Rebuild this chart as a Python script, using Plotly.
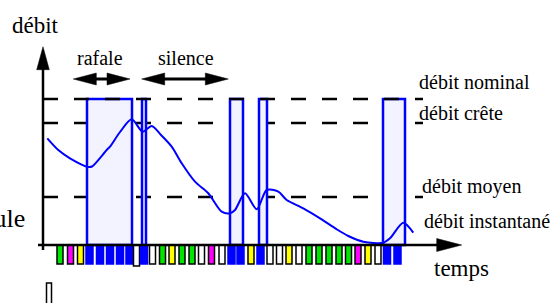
import plotly.graph_objects as go

# ---------------- data ----------------
level_names = ["débit nominal", "débit crête", "débit moyen"]
level_values = [146, 122, 48]
level_end = 380

burst_starts = [44, 99, 187, 216, 340]
burst_ends = [89, 103, 200, 224, 362]

curve_t = [4.3, 15.3, 27, 45.3, 49, 63.7, 67, 77, 88.7, 99.7, 108.7, 118, 128.7,
           138.7, 152, 165.3, 178.7, 187, 192, 202, 213.7, 223.7, 235.3, 243.7,
           260.3, 277, 293.7, 305.3, 320.3, 340.3, 347, 360.3, 370.3]
curve_rate = [106.7, 95, 86.7, 78, 78.5, 95, 98.3, 113, 125.7, 113.3, 119, 110, 98.3,
              81.7, 63.3, 51.7, 33.3, 31.7, 35, 51.7, 35.7, 55, 53.3, 45,
              36.7, 26.7, 15.7, 9, 3.3, 2.3, 6.7, 22.3, 12.3]

slot_t = [17, 27.5, 37.5, 46.5, 57, 67, 77, 86.5, 93.5, 101, 109.5, 119.5, 129, 139,
          149, 158.5, 168.5, 179, 188.5, 197.5, 208, 217.5, 227, 236.5, 246, 256,
          266, 276, 286, 296, 305.5, 315, 325, 335, 344, 354.5]
slot_kind = ["G", "M", "Y", "B", "B", "B", "B", "B", "W", "B", "W", "G", "Y", "G",
             "G", "W", "M", "W", "B", "B", "Y", "B", "W", "W", "Y", "W",
             "G", "G", "G", "G", "G", "M", "Y", "W", "B", "B"]
slot_depth = [19, 19, 19, 19, 19, 19, 19, 19, 21, 19, 19, 19, 19, 19,
              19, 19, 19, 19, 19, 19, 19, 19, 19, 19, 19, 19,
              19, 19, 19, 19, 19, 19, 19, 19, 19, 19]

rafale_span = [30.3, 87]
silence_span = [98.7, 185.3]

# ---------------- style ----------------
BLUE = "#0000ff"
kind_color = {"G": "#00e600", "M": "#ff00ff", "Y": "#ffff00", "B": BLUE, "W": "#ffffff"}
FONT = "Liberation Serif"

fig = go.Figure()

shapes = []
# crête and moyen levels below the burst windows
for v in level_values[1:]:
    shapes.append(dict(type="line", xref="x", yref="y", x0=0, x1=level_end, y0=v, y1=v,
                       layer="below", line=dict(color="black", width=2.5, dash="15px,16px")))
# burst windows
for s, e in zip(burst_starts, burst_ends):
    shapes.append(dict(type="rect", xref="x", yref="y", x0=s, x1=e, y0=0, y1=level_values[0],
                       layer="below", fillcolor="#f3f3ff", line=dict(color=BLUE, width=2.5)))
# nominal level above
shapes.append(dict(type="line", xref="x", yref="y", x0=0, x1=level_end,
                   y0=level_values[0], y1=level_values[0], layer="below",
                   line=dict(color="black", width=2.5, dash="15px,16px")))
# axes
shapes.append(dict(type="line", xref="x", yref="y", x0=0, x1=0, y0=-5, y1=176,
                   line=dict(color="black", width=2.5)))
shapes.append(dict(type="line", xref="x", yref="y", x0=-5, x1=395, y0=0, y1=0,
                   line=dict(color="black", width=2.5)))
# cell symbol
shapes.append(dict(type="rect", xref="x", yref="y", x0=3.5, x1=8.5, y0=-38, y1=-60,
                   line=dict(color="black", width=1.5), fillcolor="white"))

# slots (cells)
fig.add_trace(go.Bar(
    x=slot_t, y=[-d for d in slot_depth], base=0, width=[7 if k == "B" else 6 for k in slot_kind],
    marker=dict(color=[kind_color[k] for k in slot_kind],
                line=dict(color=[BLUE if k == "B" else "black" for k in slot_kind], width=1.5)),
    hoverinfo="skip", showlegend=False))

# instantaneous rate curve
fig.add_trace(go.Scatter(x=curve_t, y=curve_rate, mode="lines",
                         line=dict(color=BLUE, width=2, shape="spline", smoothing=0.8),
                         hoverinfo="skip", showlegend=False))


def head(tx, ty, dx, dy, length, half):
    bx, by = tx - dx * length, ty - dy * length
    px, py = -dy * half, dx * half
    return [tx, bx + px, bx - px, tx], [ty, by + py, by - py, ty]


def add_tri(xs, ys):
    fig.add_trace(go.Scatter(x=xs, y=ys, mode="lines", fill="toself", fillcolor="black",
                             line=dict(color="black", width=0.5), hoverinfo="skip",
                             showlegend=False))


# axis arrowheads
add_tri(*head(0, 198.3, 0, 1, 23, 6.3))
add_tri(*head(418.7, 0, 1, 0, 25, 6.5))

# rafale / silence double arrows
for span in (rafale_span, silence_span):
    fig.add_trace(go.Scatter(x=[span[0] + 10, span[1] - 10], y=[166, 166], mode="lines",
                             line=dict(color="black", width=3), hoverinfo="skip",
                             showlegend=False))
    add_tri(*head(span[0], 166, -1, 0, 23, 6))
    add_tri(*head(span[1], 166, 1, 0, 23, 6))

ann = []


def label(text, x, y, size, xanchor="left"):
    ann.append(dict(text=text, x=x, y=y, xref="x", yref="y", showarrow=False,
                    xanchor=xanchor, yanchor="middle", font=dict(family=FONT, size=size, color="black")))


label("débit", -8, 220, 23, "center")
label("rafale", 57, 187, 20, "center")
label("silence", 142.5, 187, 20, "center")
label(level_names[0], 374, 163, 20)
label(level_names[1], 374, 132, 20)
label(level_names[2], 377, 59, 20)
label("débit instantané", 378.7, 24, 20)
label("temps", 388.7, -23, 23)
label("cellule", -16, 27, 26, "right")

fig.update_layout(
    width=550, height=303, margin=dict(l=0, r=0, t=0, b=0),
    paper_bgcolor="white", plot_bgcolor="white",
    xaxis=dict(range=[-43, 507], visible=False, fixedrange=True),
    yaxis=dict(range=[-58, 245], visible=False, fixedrange=True),
    shapes=shapes, annotations=ann, bargap=0, showlegend=False,
)

fig.write_html("out.html", config={"displayModeBar": False, "staticPlot": True},
               post_script="document.body.style.margin='0px';")
